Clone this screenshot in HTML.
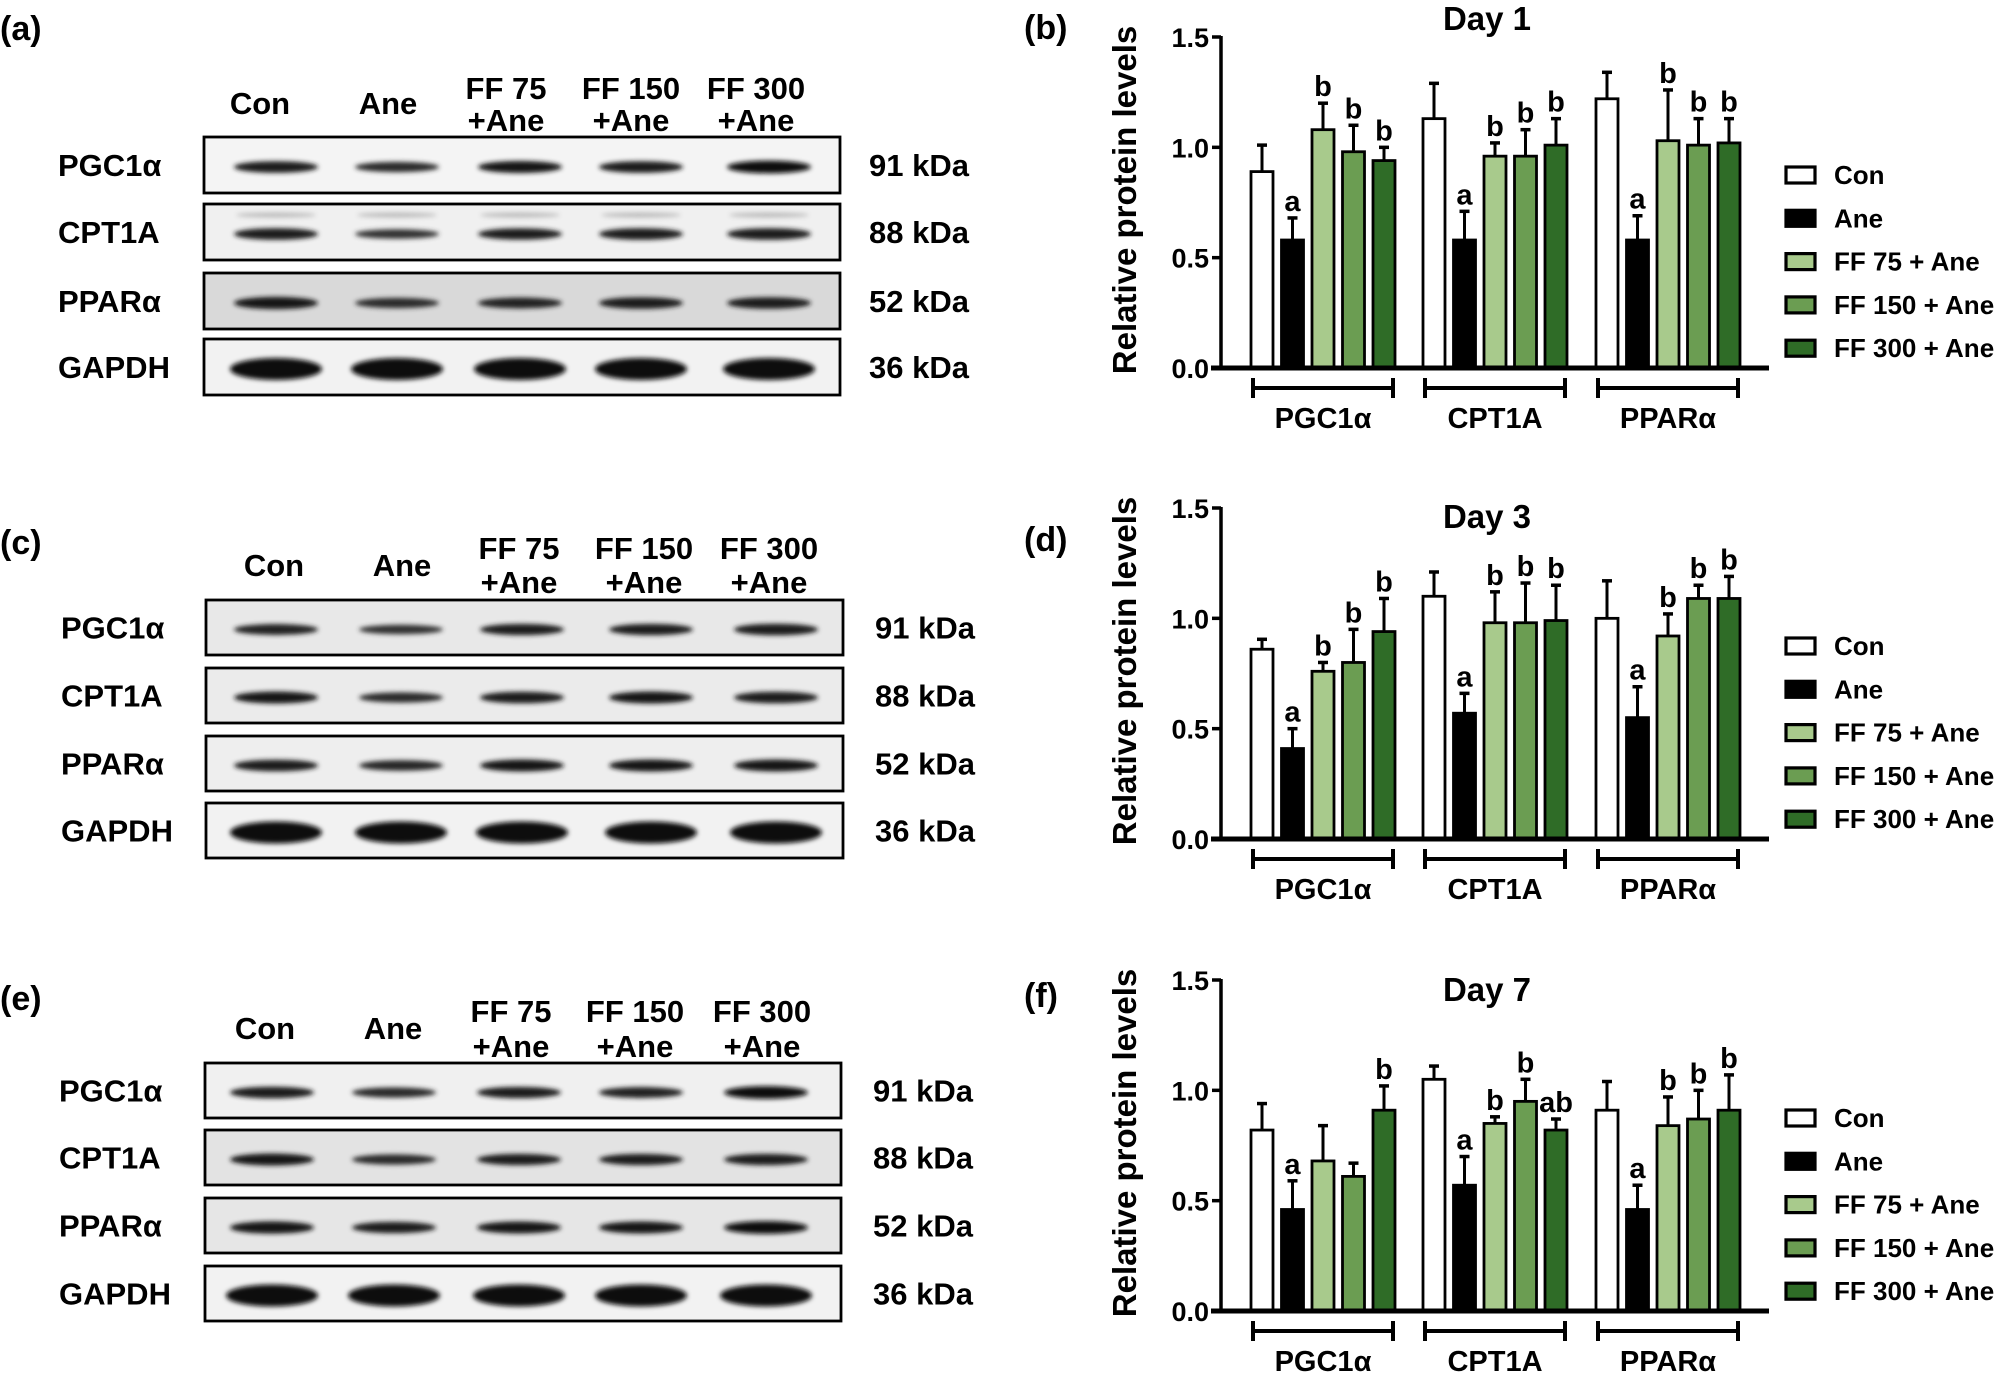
<!DOCTYPE html>
<html><head><meta charset="utf-8">
<style>
html,body{margin:0;padding:0;background:#fff;}
svg{display:block;font-family:"Liberation Sans",Arial,sans-serif;font-weight:bold;}
</style></head>
<body>
<svg id="fig" width="1998" height="1374" viewBox="0 0 1998 1374" xmlns="http://www.w3.org/2000/svg">
<defs>
<filter id="blur" x="-20%" y="-150%" width="140%" height="400%"><feGaussianBlur stdDeviation="2.5"/></filter>
</defs>
</svg>
<script>
// ---------- chart data ----------
const categories = ["PGC1α", "CPT1A", "PPARα"];
const groups = ["Con", "Ane", "FF 75 + Ane", "FF 150 + Ane", "FF 300 + Ane"];
const yTicks = [0.0, 0.5, 1.0, 1.5];
const yTickLabels = ["0.0", "0.5", "1.0", "1.5"];
const dayTitles = ["Day 1", "Day 3", "Day 7"];
// values [day][category][group]
const day1Means = [[0.89,0.58,1.08,0.98,0.94],[1.13,0.58,0.96,0.96,1.01],[1.22,0.58,1.03,1.01,1.02]];
const day1ErrTop = [[1.01,0.68,1.20,1.10,1.00],[1.29,0.71,1.02,1.08,1.13],[1.34,0.69,1.26,1.13,1.13]];
const day1Letters = [["","a","b","b","b"],["","a","b","b","b"],["","a","b","b","b"]];
const day3Means = [[0.86,0.41,0.76,0.80,0.94],[1.10,0.57,0.98,0.98,0.99],[1.00,0.55,0.92,1.09,1.09]];
const day3ErrTop = [[0.905,0.50,0.80,0.95,1.09],[1.21,0.66,1.12,1.16,1.15],[1.17,0.69,1.02,1.15,1.19]];
const day3Letters = [["","a","b","b","b"],["","a","b","b","b"],["","a","b","b","b"]];
const day7Means = [[0.82,0.46,0.68,0.61,0.91],[1.05,0.57,0.85,0.95,0.82],[0.91,0.46,0.84,0.87,0.91]];
const day7ErrTop = [[0.94,0.59,0.84,0.67,1.02],[1.11,0.70,0.88,1.05,0.87],[1.04,0.57,0.97,1.00,1.07]];
const day7Letters = [["","a","","","b"],["","a","b","b","ab"],["","a","b","b","b"]];
// blot band intensities (0..1) per panel [row][lane]
const blotRows = ["PGC1α","CPT1A","PPARα","GAPDH"];
const blotKda = ["91 kDa","88 kDa","52 kDa","36 kDa"];
const blotLanes = ["Con","Ane","FF 75|+Ane","FF 150|+Ane","FF 300|+Ane"];
const blotA = [[0.8,0.6,0.85,0.8,0.95],[0.8,0.5,0.75,0.8,0.8],[0.9,0.6,0.7,0.8,0.8],[1,1,1,1,1]];
const blotC = [[0.7,0.5,0.75,0.75,0.8],[0.85,0.6,0.8,0.85,0.8],[0.8,0.65,0.85,0.85,0.85],[1,1,1,1,1]];
const blotE = [[0.8,0.6,0.75,0.7,0.95],[0.85,0.6,0.75,0.75,0.75],[0.9,0.75,0.85,0.85,0.95],[1,1,1,1,1]];

const svg = document.getElementById('fig');
const NS = "http://www.w3.org/2000/svg";
function mk(tag, attrs, parent){const e=document.createElementNS(NS,tag);for(const k in attrs)e.setAttribute(k,attrs[k]);(parent||svg).appendChild(e);return e;}
function txt(s, attrs, parent){const e=mk('text',attrs,parent);e.textContent=s;return e;}

const colors = ["#ffffff","#000000","#a8ca8c","#6b9d52","#2f6c27"];

// ---------- bar charts ----------
const axisX = 1221, axisRight = 1769, plotH = 331;
const groupCenters = [1323, 1495, 1668];
const barOffsets = [-61,-30.5,0,30.5,61];
const barW = 22;
const panels = [
 {y0:368, means:day1Means, err:day1ErrTop, letters:day1Letters, title:dayTitles[0], titleY:18, label:"(b)", labelY:27},
 {y0:839, means:day3Means, err:day3ErrTop, letters:day3Letters, title:dayTitles[1], titleY:516, label:"(d)", labelY:539},
 {y0:1311, means:day7Means, err:day7ErrTop, letters:day7Letters, title:dayTitles[2], titleY:989, label:"(f)", labelY:995}
];
panels.forEach((p, pi) => {
  const g = mk('g', {});
  
  
  const yS = v => p.y0 - v / 1.5 * plotH;
  const pl = txt(p.label, {x:1024, y:p.labelY+12, 'font-size':34}, g);
  
  
  const tt = txt(p.title, {x:1487, y:p.titleY+12, 'font-size':33, 'text-anchor':'middle'}, g);
  
  
  const yl = txt("Relative protein levels", {x:0, y:0, 'font-size':33, 'text-anchor':'middle', transform:`translate(1136,${p.y0-168}) rotate(-90)`}, g);
  
  
  // bars
  categories.forEach((c, ci) => {
    groups.forEach((gr, gi) => {
      const cx = groupCenters[ci] + barOffsets[gi];
      const v = p.means[ci][gi], e = p.err[ci][gi];
      const eb = mk('line', {x1:cx, x2:cx, y1:yS(v), y2:yS(e), stroke:'#000', 'stroke-width':3}, g);
      
      
      mk('line', {x1:cx-5, x2:cx+5, y1:yS(e), y2:yS(e), stroke:'#000', 'stroke-width':3.5}, g);
      const r = mk('rect', {x:cx-barW/2, y:yS(v), width:barW, height:p.y0-yS(v), fill:colors[gi], stroke:'#000', 'stroke-width':2.8}, g);
      
      
      const L = p.letters[ci][gi];
      if (L) {
        const lt = txt(L, {x:cx, y:yS(e)-7, 'font-size':29, 'text-anchor':'middle'}, g);
        
        
      }
    });
    const gc = groupCenters[ci], by = p.y0 + 20;
    mk('line', {x1:gc-70, x2:gc+70, y1:by, y2:by, stroke:'#000', 'stroke-width':4}, g);
    mk('line', {x1:gc-70, x2:gc-70, y1:by-10, y2:by+10, stroke:'#000', 'stroke-width':4}, g);
    mk('line', {x1:gc+70, x2:gc+70, y1:by-10, y2:by+10, stroke:'#000', 'stroke-width':4}, g);
    const cl = txt(c, {x:gc, y:p.y0+60, 'font-size':29, 'text-anchor':'middle'}, g);
    
    
  });
  // axes
  const ya = mk('line', {x1:axisX, x2:axisX, y1:yS(1.5)-1, y2:p.y0+2, stroke:'#000', 'stroke-width':3.5}, g);
  
  
  const xa = mk('line', {x1:axisX-10, x2:axisRight, y1:p.y0, y2:p.y0, stroke:'#000', 'stroke-width':5}, g);
  
  
  yTicks.forEach((t, ti) => {
    mk('line', {x1:axisX-9, x2:axisX, y1:yS(t), y2:yS(t), stroke:'#000', 'stroke-width':3.5}, g);
    const tl = txt(yTickLabels[ti], {x:1209, y:yS(t)+10, 'font-size':27, 'text-anchor':'end'}, g);
    
    
  });
  // legend
  groups.forEach((gr, gi) => {
    const ly = p.y0 - 193 + gi * 43.3;
    const lr = mk('rect', {x:1786, y:ly-8, width:29, height:16, fill:colors[gi], stroke:'#000', 'stroke-width':3.2}, g);
    
    
    const lt = txt(gr, {x:1834, y:ly+9, 'font-size':26}, g);
    
    
  });
});

// ---------- western blots ----------
const blots = [
 {label:"(a)", labelY:28, boxX:204, boxW:636, rowsY:[137,204,273,339], rowH:56, headY:103, line1:88, line2:120,
  heads:[260,388,506,631,756], lanes:[276,397,520,641,769], labelX:58, kdaX:869, data:blotA, bgs:["#f4f4f4","#f0f0f0","#d9d9d9","#f2f2f2"]},
 {label:"(c)", labelY:542, boxX:206, boxW:637, rowsY:[600,668,736,803], rowH:55, headY:565, line1:548, line2:582,
  heads:[274,402,519,644,769], lanes:[276,401,522,651,776], labelX:61, kdaX:875, data:blotC, bgs:["#e8e8e8","#ebebeb","#eeeeee","#f2f2f2"]},
 {label:"(e)", labelY:998, boxX:205, boxW:636, rowsY:[1063,1130,1198,1266], rowH:55, headY:1028, line1:1011, line2:1046,
  heads:[265,393,511,635,762], lanes:[272,394,519,641,766], labelX:59, kdaX:873, data:blotE, bgs:["#f0f0f0","#e3e3e3","#e6e6e6","#f2f2f2"]}
];
blots.forEach((b, bi) => {
  const g = mk('g', {});
  
  
  const pl = txt(b.label, {x:0, y:b.labelY+12, 'font-size':34}, g);
  
  
  blotLanes.forEach((ln, li) => {
    const parts = ln.split('|');
    if (parts.length === 1) {
      const h = txt(parts[0], {x:b.heads[li], y:b.headY+11, 'font-size':31, 'text-anchor':'middle'}, g);
      
      
    } else {
      const h = txt(parts[0], {x:b.heads[li], y:b.line1+11, 'font-size':31, 'text-anchor':'middle'}, g);
      
      
      txt(parts[1], {x:b.heads[li], y:b.line2+11, 'font-size':31, 'text-anchor':'middle'}, g);
    }
  });
  blotRows.forEach((rn, ri) => {
    const y = b.rowsY[ri], cy = y + b.rowH/2;
    const bx = mk('rect', {x:b.boxX, y:y, width:b.boxW, height:b.rowH, fill:b.bgs[ri], stroke:'#000', 'stroke-width':2.8}, g);
    
    
    b.lanes.forEach((lx, li) => {
      const inten = b.data[ri][li];
      const h = ri === 3 ? 11 : 3 + inten * 3.5;
      const w = ri === 3 ? 46 : 42;
      const c = Math.round(90-inten*80);
      const col = `rgb(${c},${c},${c})`;
      mk('ellipse', {cx:lx, cy:cy+2, rx:w, ry:h, fill:col, filter:'url(#blur)'}, g);
      if (ri === 1 && bi === 0) mk('ellipse', {cx:lx, cy:cy-17, rx:40, ry:2.5, fill:'#bbb', filter:'url(#blur)'}, g);
    });
    const rl = txt(rn, {x:b.labelX, y:cy+11, 'font-size':31}, g);
    
    
    const kl = txt(blotKda[ri], {x:b.kdaX, y:cy+11, 'font-size':31}, g);
    
    
  });
});
</script>
</body></html>
